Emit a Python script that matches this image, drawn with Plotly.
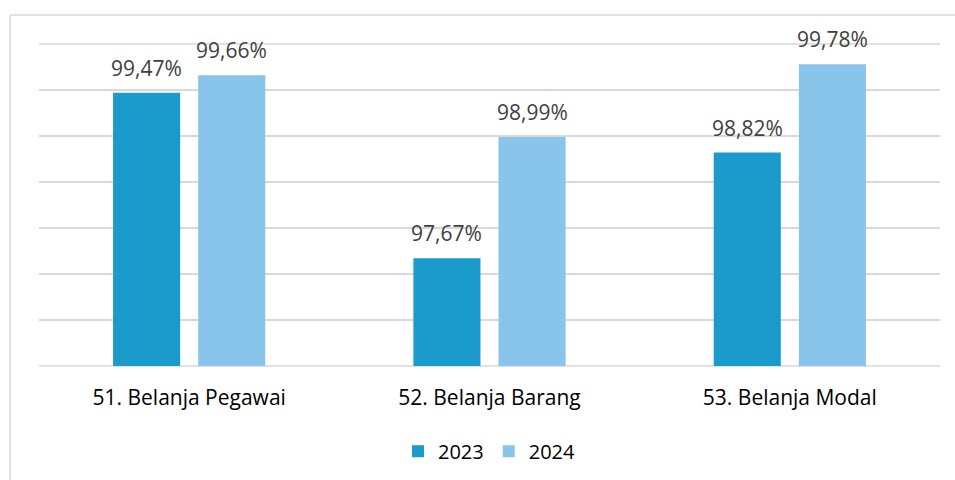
import plotly.graph_objects as go

categories = ["51. Belanja Pegawai", "52. Belanja Barang", "53. Belanja Modal"]
series_names = ["2023", "2024"]
values_2023 = [99.47, 97.67, 98.82]
values_2024 = [99.66, 98.99, 99.78]
colors = ["#1A9BCB", "#89C4EA"]

FONT = "Open Sans"
BARGAP = 0.433
GROUPGAP = 0.212
GRID = "#D9D9D9"

fig = go.Figure()
for name, vals, col in zip(series_names, [values_2023, values_2024], colors):
    fig.add_trace(go.Bar(x=categories, y=vals, name=name, marker=dict(color=col, line=dict(width=0))))

# data labels as annotations above bars
slot = (1 - BARGAP) / 2
offsets = [-slot / 2, slot / 2]
for vals, off in zip([values_2023, values_2024], offsets):
    for i, v in enumerate(vals):
        fig.add_annotation(x=i + off, y=v, xref="x", yref="y",
                           text=f"{v:.2f}%".replace(".", ","),
                           showarrow=False, yanchor="bottom", yshift=9,
                           font=dict(family=FONT, size=21, color="#404040"))

fig.update_layout(
    width=955, height=480,
    margin=dict(l=39, r=15, t=44, b=114, autoexpand=False),
    paper_bgcolor="white", plot_bgcolor="white",
    barmode="group", bargap=BARGAP, bargroupgap=GROUPGAP,
    showlegend=True,
    legend=dict(orientation="h", x=0.5, xanchor="center", y=-0.265, yanchor="middle",
                font=dict(family=FONT, size=20, color="#000000"), itemwidth=30,
                traceorder="normal"),
    font=dict(family=FONT),
)
fig.update_xaxes(showgrid=False, showline=False, zeroline=False, automargin=False,
                 ticks="outside", ticklen=13, tickcolor="rgba(0,0,0,0)",
                 tickfont=dict(family=FONT, size=21, color="#000000"))
fig.update_yaxes(range=[96.5, 100], dtick=0.5, tick0=96.5, showticklabels=False, automargin=False,
                 showgrid=True, gridcolor=GRID, gridwidth=1.5, zeroline=False, showline=False)

# edge gridlines (top and baseline), drawn beneath bars
for yp in (0, 1):
    fig.add_shape(type="line", xref="paper", yref="paper", x0=0, x1=1, y0=yp, y1=yp,
                  line=dict(color=GRID, width=1.5), layer="below")

# outer chart border (top and left visible in reference)
fig.add_shape(type="line", xref="paper", yref="paper", x0=-0.032, x1=1.02, y0=1.09, y1=1.09,
              line=dict(color=GRID, width=1.5))
fig.add_shape(type="line", xref="paper", yref="paper", x0=-0.032, x1=-0.032, y0=1.09, y1=-0.4,
              line=dict(color=GRID, width=1.5))

fig.write_html("out.html", config={"displayModeBar": False},
               post_script="document.body.style.margin='0';")
